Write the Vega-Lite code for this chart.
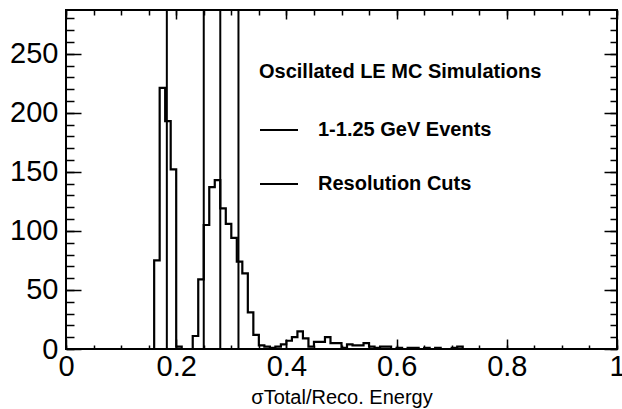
{
  "$schema": "https://vega.github.io/schema/vega-lite/v6.json",
  "width": 551,
  "height": 339,
  "autosize": {"type": "none"},
  "padding": {"left": 66, "top": 10, "right": 5, "bottom": 60},
  "background": "white",
  "config": {
    "view": {"stroke": "black", "strokeWidth": 2},
    "axis": {"grid": false, "domain": false, "tickColor": "black", "tickWidth": 1.5, "labelFont": "Liberation Sans", "labelColor": "black", "titleFont": "Liberation Sans", "titleColor": "black", "labelFlush": false, "labelOverlap": false, "labelBound": false}
  },
  "datasets": {
    "hist": [
      {"bin": 0.00, "count": 0}, {"bin": 0.01, "count": 0}, {"bin": 0.02, "count": 0}, {"bin": 0.03, "count": 0}, {"bin": 0.04, "count": 0},
      {"bin": 0.05, "count": 0}, {"bin": 0.06, "count": 0}, {"bin": 0.07, "count": 0}, {"bin": 0.08, "count": 0}, {"bin": 0.09, "count": 0},
      {"bin": 0.10, "count": 0}, {"bin": 0.11, "count": 0}, {"bin": 0.12, "count": 0}, {"bin": 0.13, "count": 0}, {"bin": 0.14, "count": 0},
      {"bin": 0.15, "count": 0}, {"bin": 0.16, "count": 75}, {"bin": 0.17, "count": 221}, {"bin": 0.18, "count": 193}, {"bin": 0.19, "count": 152},
      {"bin": 0.20, "count": 2}, {"bin": 0.21, "count": 0}, {"bin": 0.22, "count": 0}, {"bin": 0.23, "count": 11}, {"bin": 0.24, "count": 59},
      {"bin": 0.25, "count": 105}, {"bin": 0.26, "count": 137}, {"bin": 0.27, "count": 143}, {"bin": 0.28, "count": 119}, {"bin": 0.29, "count": 106},
      {"bin": 0.30, "count": 94}, {"bin": 0.31, "count": 74}, {"bin": 0.32, "count": 64}, {"bin": 0.33, "count": 31}, {"bin": 0.34, "count": 12},
      {"bin": 0.35, "count": 3}, {"bin": 0.36, "count": 2}, {"bin": 0.37, "count": 1}, {"bin": 0.38, "count": 2}, {"bin": 0.39, "count": 4},
      {"bin": 0.40, "count": 7}, {"bin": 0.41, "count": 10}, {"bin": 0.42, "count": 15}, {"bin": 0.43, "count": 9}, {"bin": 0.44, "count": 2},
      {"bin": 0.45, "count": 6}, {"bin": 0.46, "count": 6}, {"bin": 0.47, "count": 10}, {"bin": 0.48, "count": 5}, {"bin": 0.49, "count": 5},
      {"bin": 0.50, "count": 1}, {"bin": 0.51, "count": 4}, {"bin": 0.52, "count": 3}, {"bin": 0.53, "count": 3}, {"bin": 0.54, "count": 5},
      {"bin": 0.55, "count": 2}, {"bin": 0.56, "count": 1}, {"bin": 0.57, "count": 2}, {"bin": 0.58, "count": 2}, {"bin": 0.59, "count": 0},
      {"bin": 0.60, "count": 1}, {"bin": 0.61, "count": 0}, {"bin": 0.62, "count": 1}, {"bin": 0.63, "count": 1}, {"bin": 0.64, "count": 0},
      {"bin": 0.65, "count": 1}, {"bin": 0.66, "count": 0}, {"bin": 0.67, "count": 1}, {"bin": 0.68, "count": 0}, {"bin": 0.69, "count": 0},
      {"bin": 0.70, "count": 1}, {"bin": 0.71, "count": 2}, {"bin": 0.72, "count": 0}, {"bin": 0.73, "count": 0}, {"bin": 0.74, "count": 0},
      {"bin": 0.75, "count": 0}, {"bin": 0.76, "count": 0}, {"bin": 0.77, "count": 0}, {"bin": 0.78, "count": 0}, {"bin": 0.79, "count": 0},
      {"bin": 0.80, "count": 0}, {"bin": 0.81, "count": 0}, {"bin": 0.82, "count": 0}, {"bin": 0.83, "count": 0}, {"bin": 0.84, "count": 0},
      {"bin": 0.85, "count": 0}, {"bin": 0.86, "count": 0}, {"bin": 0.87, "count": 0}, {"bin": 0.88, "count": 0}, {"bin": 0.89, "count": 0},
      {"bin": 0.90, "count": 0}, {"bin": 0.91, "count": 0}, {"bin": 0.92, "count": 0}, {"bin": 0.93, "count": 0}, {"bin": 0.94, "count": 0},
      {"bin": 0.95, "count": 0}, {"bin": 0.96, "count": 0}, {"bin": 0.97, "count": 0}, {"bin": 0.98, "count": 0}, {"bin": 0.99, "count": 0},
      {"bin": 1.00, "count": 0}
    ],
    "cuts": [
      {"cut": 0.183}, {"cut": 0.25}, {"cut": 0.28}, {"cut": 0.313}
    ]
  },
  "resolve": {"axis": {"x": "independent", "y": "independent"}},
  "layer": [
    {
      "data": {"name": "hist"},
      "mark": {"type": "line", "interpolate": "step-after", "strokeWidth": 2.2, "clip": true},
      "encoding": {
        "x": {"field": "bin", "type": "quantitative",
              "scale": {"domain": [0, 1], "nice": false, "zero": false},
              "axis": {"orient": "bottom", "values": [0, 0.2, 0.4, 0.6, 0.8, 1], "format": "~g", "tickSize": -10, "labelFontSize": 29, "labelPadding": 13,
                       "title": "σTotal/Reco. Energy", "titleFontSize": 20, "titleFontWeight": "normal", "titlePadding": 6}},
        "y": {"field": "count", "type": "quantitative",
              "scale": {"domain": [0, 287], "nice": false},
              "axis": {"orient": "left", "values": [0, 50, 100, 150, 200, 250], "tickSize": -15, "labelFontSize": 29, "labelPadding": 23, "title": null}},
        "stroke": {"datum": "1-1.25 GeV Events",
                   "scale": {"domain": ["1-1.25 GeV Events", "Resolution Cuts"], "range": ["black", "black"]},
                   "legend": {"orient": "none", "legendX": 193, "legendY": 52,
                              "title": "Oscillated LE MC Simulations", "titleFont": "Liberation Sans", "titleFontSize": 20, "titleFontWeight": "bold", "titleColor": "black", "titlePadding": 28, "titleLimit": 500,
                              "labelFont": "Liberation Sans", "labelFontSize": 20, "labelFontWeight": "bold", "labelColor": "black", "labelOffset": 19, "labelLimit": 500,
                              "symbolType": "stroke", "symbolSize": 1444, "symbolStrokeWidth": 2, "rowPadding": 24}}
      }
    },
    {
      "data": {"name": "cuts"},
      "mark": {"type": "rule", "strokeWidth": 2},
      "encoding": {
        "x": {"field": "cut", "type": "quantitative",
              "axis": {"orient": "bottom", "values": [0, 0.05, 0.1, 0.15, 0.2, 0.25, 0.3, 0.35, 0.4, 0.45, 0.5, 0.55, 0.6, 0.65, 0.7, 0.75, 0.8, 0.85, 0.9, 0.95, 1], "tickSize": -4, "labels": false, "title": null}},
        "y": {"datum": 0, "type": "quantitative",
              "axis": {"orient": "left", "values": [0, 10, 20, 30, 40, 50, 60, 70, 80, 90, 100, 110, 120, 130, 140, 150, 160, 170, 180, 190, 200, 210, 220, 230, 240, 250, 260, 270, 280], "tickSize": -8, "labels": false, "title": null}},
        "y2": {"datum": 287},
        "stroke": {"datum": "Resolution Cuts"}
      }
    },
    {
      "data": {"name": "hist"},
      "mark": {"type": "point", "opacity": 0},
      "encoding": {
        "x": {"field": "bin", "type": "quantitative",
              "axis": {"orient": "top", "values": [0, 0.2, 0.4, 0.6, 0.8, 1], "tickSize": -9, "labels": false, "title": null}},
        "y": {"field": "count", "type": "quantitative",
              "axis": {"orient": "right", "values": [0, 50, 100, 150, 200, 250], "tickSize": -13, "labels": false, "title": null}}
      }
    },
    {
      "data": {"name": "hist"},
      "mark": {"type": "point", "opacity": 0},
      "encoding": {
        "x": {"field": "bin", "type": "quantitative",
              "axis": {"orient": "top", "values": [0, 0.05, 0.1, 0.15, 0.2, 0.25, 0.3, 0.35, 0.4, 0.45, 0.5, 0.55, 0.6, 0.65, 0.7, 0.75, 0.8, 0.85, 0.9, 0.95, 1], "tickSize": -5, "labels": false, "title": null}},
        "y": {"field": "count", "type": "quantitative",
              "axis": {"orient": "right", "values": [0, 10, 20, 30, 40, 50, 60, 70, 80, 90, 100, 110, 120, 130, 140, 150, 160, 170, 180, 190, 200, 210, 220, 230, 240, 250, 260, 270, 280], "tickSize": -7, "labels": false, "title": null}}
      }
    }
  ]
}
